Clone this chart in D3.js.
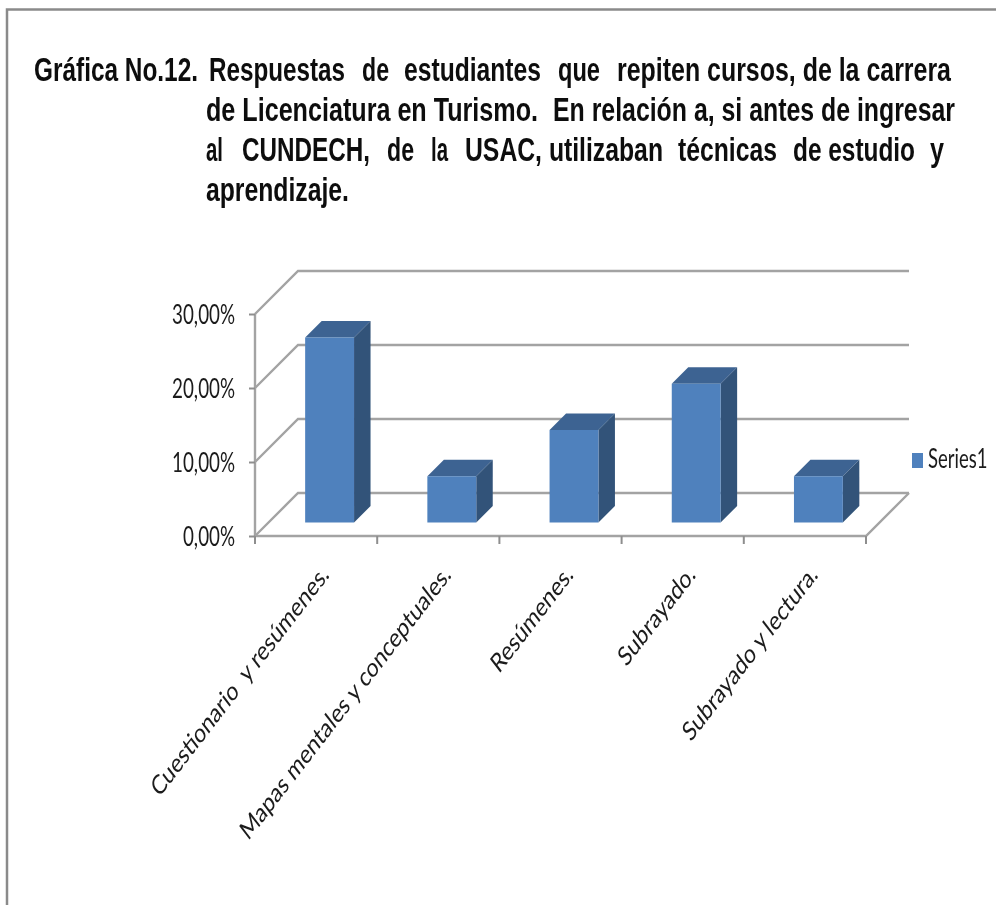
<!DOCTYPE html>
<html>
<head>
<meta charset="utf-8">
<script src="https://cdn.jsdelivr.net/npm/d3@7"></script>
<style>
  html, body { margin: 0; background: #fff; }
  svg { display: block; }
  .grid { stroke: #a3a3a3; stroke-width: 2.4; fill: none; }
  .tick line { stroke: #8e8e8e; stroke-width: 2; }
  .tick text, .cat, .legend { font-family: Lato, sans-serif; fill: #1a1a1a; }
  .title { font-family: "Liberation Sans", sans-serif; font-weight: bold; fill: #111; }
</style>
</head>
<body>
<div id="chart"></div>
<script>
const categories = ["Cuestionario  y resúmenes.", "Mapas mentales y conceptuales.", "Resúmenes.", "Subrayado.", "Subrayado y lectura."];
const values = [25, 6.25, 12.5, 18.75, 6.25];
const yTicks = [0, 10, 20, 30];
const yTickLabels = ["0,00%", "10,00%", "20,00%", "30,00%"];
const seriesName = "Series1";

// title pieces: the source text is justified, so each run gets its own span
const titleLines = [
  [["Gráfica No.12.", 34, 198], ["Respuestas", 209, 345], ["de", 362, 389], ["estudiantes", 404, 541], ["que", 558, 600], ["repiten cursos, de la carrera", 617, 951]],
  [["de Licenciatura en Turismo.", 206, 538], ["En relación a, si antes de ingresar", 553, 955]],
  [["al", 206, 223], ["CUNDECH,", 242, 370], ["de", 387, 414], ["la", 431, 448], ["USAC, utilizaban", 465, 663], ["técnicas", 678, 777], ["de estudio", 793, 915], ["y", 930, 944]],
  [["aprendizaje.", 206, 349]]
];
const titleBaselines = [81, 121, 161, 201];

const width = 996, height = 905;
const depth = 43;      // floor depth of the fake 3d box
const barShift = 13.5; // bars sit this far back from the front edge
const barDepth = 16.5;

const svg = d3.select("#chart").append("svg")
  .attr("width", width)
  .attr("height", height);

// slight softening, the reference is an upscaled bitmap
svg.append("defs").append("filter").attr("id", "soft")
  .append("feGaussianBlur").attr("stdDeviation", 0.45);

const root = svg.append("g").attr("filter", "url(#soft)");

//page frame
root.append("path")
  .attr("d", "M7,905V9.5H996")
  .attr("fill", "none")
  .attr("stroke", "#8a8a8a")
  .attr("stroke-width", 2.5);

//title
titleLines.forEach((line, i) => {
  line.forEach((run) => {
    root.append("text")
      .attr("class", "title")
      .attr("transform", `translate(${run[1]},${titleBaselines[i]}) scale(1,1.62)`)
      .attr("font-size", 20)
      .attr("textLength", run[2] - run[1])
      .attr("lengthAdjust", "spacingAndGlyphs")
      .text(run[0]);
  });
});

const x = d3.scaleBand()
  .domain(categories)
  .range([255, 866])
  .paddingInner(0.6)
  .paddingOuter(0.3);

const y = d3.scaleLinear()
  .domain([0, 30])
  .range([536, 314]);

const xTickAt = d3.scaleLinear().domain([0, categories.length]).range([255, 866]);

//walls and floor
yTicks.forEach((t) => {
  root.append("path")
    .attr("class", "grid")
    .attr("d", `M255,${y(t)}L${255 + depth},${y(t) - depth}H${866 + depth}`);
});
root.append("path")
  .attr("class", "grid")
  .attr("d", `M255,${y(30)}V${y(0)}H866L${866 + depth},${y(0) - depth}`);

//axes
const yAxis = root.append("g")
  .attr("transform", "translate(255,0)")
  .call(d3.axisLeft(y).tickValues(yTicks).tickSize(6).tickPadding(0).tickFormat((d, i) => yTickLabels[i]));
yAxis.select(".domain").remove();
yAxis.selectAll(".tick text")
  .attr("font-size", null)
  .style("font-size", "18.8px")
  .attr("text-anchor", "end")
  .attr("dy", null)
  .attr("x", null)
  .attr("transform", "translate(-20,9) scale(1,1.45)");

root.selectAll(".xtick").data(d3.range(categories.length + 1)).enter().append("line")
  .attr("class", "xtick")
  .attr("x1", (d) => xTickAt(d))
  .attr("x2", (d) => xTickAt(d))
  .attr("y1", y(0))
  .attr("y2", y(0) + 8)
  .attr("stroke", "#8e8e8e")
  .attr("stroke-width", 2);

//bars, one group per category with front, top and side faces
const bars = root.selectAll(".bar").data(values).enter().append("g")
  .attr("class", "bar")
  .attr("transform", (d, i) => `translate(${x(categories[i]) + barShift},${-barShift})`);

bars.append("path")
  .attr("fill", "#3d6392")
  .attr("d", (d) => {
    const w = x.bandwidth();
    return `M0,${y(d)}l${barDepth},${-barDepth}h${w}l${-barDepth},${barDepth}Z`;
  });

bars.append("path")
  .attr("fill", "#325379")
  .attr("d", (d) => {
    const w = x.bandwidth();
    return `M${w},${y(d)}l${barDepth},${-barDepth}V${y(0) - barDepth}l${-barDepth},${barDepth}Z`;
  });

bars.append("rect")
  .attr("fill", "#4f81bd")
  .attr("x", 0)
  .attr("y", (d) => y(d))
  .attr("width", x.bandwidth())
  .attr("height", (d) => y(0) - y(d));

//category labels, stretched after rotating which gives the slanted look
root.selectAll(".cat").data(categories).enter().append("text")
  .attr("class", "cat")
  .attr("text-anchor", "end")
  .attr("font-size", 20.5)
  .style("white-space", "pre")
  .attr("transform", (d) => `translate(${x(d) + x.bandwidth() / 2 + 14},576) scale(1,1.3) rotate(-45)`)
  .text((d) => d);

//legend
root.append("rect")
  .attr("x", 912)
  .attr("y", 453)
  .attr("width", 11)
  .attr("height", 15)
  .attr("fill", "#4f81bd");
root.append("text")
  .attr("class", "legend")
  .attr("transform", "translate(928,468) scale(1,1.45)")
  .attr("font-size", 18.5)
  .text(seriesName);
</script>
</body>
</html>
